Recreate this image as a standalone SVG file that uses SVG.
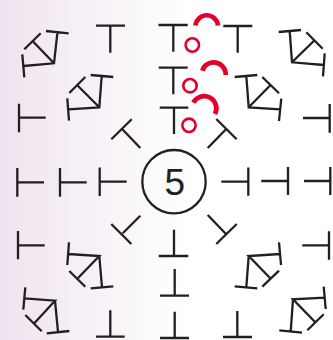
<svg xmlns="http://www.w3.org/2000/svg" width="333" height="340" viewBox="0 0 333 340">
<style>
.k{fill:none;stroke:#231f20;stroke-width:2.3}
.r{fill:none;stroke:#e4002b}
.c{stroke-width:2.6}
.a{stroke-width:4.7}
text{font-family:"Liberation Sans",Arial,sans-serif;font-size:37px;fill:#231f20;text-anchor:middle}
</style>
<defs>
<linearGradient id="bg" x1="0" x2="1" y1="0" y2="0">
<stop offset="0" stop-color="#efe4ef"/>
<stop offset="1" stop-color="#ffffff"/>
</linearGradient>
</defs>
<rect width="333" height="340" fill="#ffffff"/>
<rect width="189" height="340" fill="url(#bg)"/>
<g id="connectors" class="k">
<path d="M96 25.7H125M110.3 25.7V52.7"/>
<path d="M158.5 25H187.7M173.3 25V51.7"/>
<path d="M158.7 67.7H187.7M173.3 67.7V94.3"/>
<path d="M159.7 107.7H188.3M174 107.7V134"/>
<path d="M223.3 26H252.3M237.7 26V52.7"/>
<path d="M19 103.7V132.3M19 117.7H45.7"/>
<path d="M329.7 104V132.7M303 118H329.7"/>
<path d="M111.3 139.3L131.7 119.3M122.3 129.3L140.3 148"/>
<path d="M216.3 119L236.7 139.3M207.7 148L226.3 129"/>
<path d="M17.3 168V196.7M17.3 182.3H44"/>
<path d="M60 168V196.7M60 182.3H86.7"/>
<path d="M99.7 167.5V196M99.7 181.7H126.7"/>
<path d="M221.3 181.7H248.3M248.3 167.5V195.7"/>
<path d="M261.3 181H288M288 167V195"/>
<path d="M304 181H330.3M330.3 167V195"/>
<path d="M18 231V259.3M18 245.3H44.7"/>
<path d="M302.3 245.3H329M329 231.3V259.7"/>
<path d="M111.3 224L131.3 244M122.7 233.3L140.3 215.7"/>
<path d="M207.7 215L226 234M216.3 244L236.7 224"/>
<path d="M174 229.7V256M158.7 256H188.3"/>
<path d="M174.7 269V295.7M160 295.7H189"/>
<path d="M174.7 311.7V338M160 338H189"/>
<path d="M110.3 310.3V336.7M96 336.7H124.7"/>
<path d="M237.3 311V337M223 337H252"/>
<path d="M46 31L68.7 33.3M57.5 32L54 63.3L23.5 66M22.3 54.3L24.3 77.3M54 63.3L33.3 41.7M24.3 49.3L40.7 33.3"/>
<path d="M90.7 75L113.3 77M101.7 76L99.3 107.3L68.3 109.3M67.3 98.3L69 120.7M99.3 107.3L77.3 85.3M69.3 93L85.3 77"/>
<path d="M278.7 32L301 30M289.7 31L292 62.3L324 65M324.7 53.3L323 76.3M292 62.3L314 40.7M306.3 32.3L322.7 48.7"/>
<path d="M234.7 77L257.3 75M246.3 76L248.7 107.3L280.3 109.3M281.3 98.7L279 121M248.7 107.3L270.3 85.3M262.3 77L279 93.3"/>
<path d="M69 242.3L67.3 265M68.3 254L99.3 256L77.3 278.7M69.3 271L85.3 286.7M99.3 256L102 287.3M90.7 288.3L113.3 286.3"/>
<path d="M25.3 287.3L23.3 309.7M24.3 298.3L55 300.7L34.3 323.3M25.3 315L41.7 331.3M55 300.7L58 332M46.7 333.3L69.3 331"/>
<path d="M279 242.3L281 265M280 254L248.7 256L270.3 278.3M262.3 286.7L279 270.7M248.7 256L246.3 287.3M234.7 286.3L257.3 288.3"/>
<path d="M323.7 286.7L325.7 309M324.7 297.7L293 299.3L315.3 322.3M307.3 330.3L323.7 314.3M293 299.3L290.7 331.7M279.3 330.3L302 332.7"/>
</g>
<g id="marks" class="r">
<circle class="c" cx="192.3" cy="45" r="6.7"/>
<circle class="c" cx="190" cy="85.7" r="6.7"/>
<circle class="c" cx="189" cy="125.3" r="6.7"/>
<path class="a" d="M195.5 25.5A11.3 11.3 0 0 1 218 25.5"/>
<path class="a" d="M202.3 70.7A12 12 0 0 1 225.7 75"/>
<path class="a" d="M193.3 102.7A12.2 12.2 0 0 1 215 114"/>
</g>
<g id="node-5">
<circle cx="174" cy="181.7" r="31.7" fill="none" stroke="#231f20" stroke-width="2.3"/>
<text x="174.7" y="195">5</text>
</g>
</svg>
